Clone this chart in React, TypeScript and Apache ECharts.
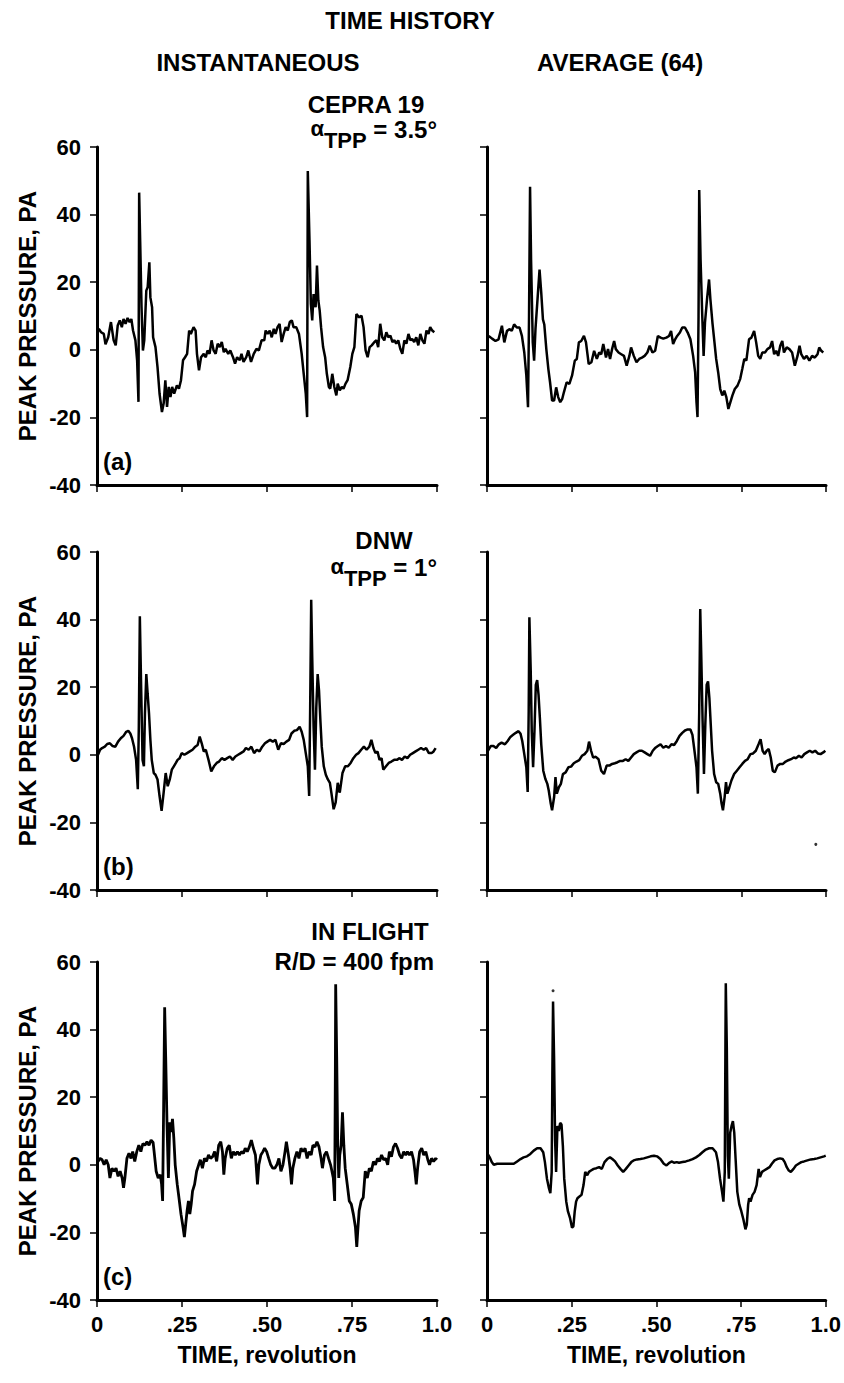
import React, { useEffect, useRef } from "react";
import * as echarts from "echarts";

// Time (revolution) / peak pressure (Pa) pairs
const cepraInstantaneous: [number, number][] = [
  [0.005, 6.2], [0.012, 5.2], [0.02, 4.7], [0.025, 1.6], [0.033, 3.7], [0.041, 8.2], [0.049, 2.8], [0.055, 1.3],
  [0.061, 7.2], [0.067, 8.7], [0.073, 6.7], [0.078, 9.1], [0.084, 7.7], [0.09, 9.4], [0.096, 8.2], [0.101, 9.1],
  [0.106, 5.7], [0.113, 2.8], [0.118, -3.1], [0.122, -15.4], [0.124, 46.5], [0.127, 32], [0.131, 12.6], [0.135, -0.2],
  [0.139, 2.8], [0.145, 17.5], [0.149, 18.5], [0.154, 25.9], [0.157, 15.5], [0.162, 12.6], [0.165, 3.7], [0.172, 0.8],
  [0.178, -5.1], [0.184, -13], [0.191, -18.4], [0.196, -15.9], [0.201, -9], [0.206, -16.9], [0.211, -11], [0.216, -14],
  [0.221, -11], [0.227, -13], [0.235, -10.5], [0.241, -11.5], [0.247, -9], [0.253, -3.1], [0.259, -2.2], [0.265, -1.2],
  [0.271, 5.7], [0.276, 4.7], [0.284, 6.7], [0.29, 5.7], [0.294, -1.2], [0.3, -6.1], [0.306, -2.2], [0.314, -1.2],
  [0.32, -2.2], [0.325, -0.2], [0.331, -1.2], [0.337, 2.8], [0.343, -0.2], [0.349, -1.2], [0.355, 1.8], [0.361, 0.8],
  [0.367, 2.3], [0.373, -0.7], [0.378, 0.3], [0.386, -1.2], [0.392, -0.2], [0.4, -2.2], [0.406, -4.1], [0.412, -2.2],
  [0.42, -3.1], [0.425, -1.2], [0.431, -3.6], [0.439, -2.2], [0.445, -0.2], [0.453, -3.6], [0.461, -1.2], [0.469, 0.3],
  [0.476, -0.2], [0.484, 2.8], [0.492, 2.8], [0.496, 5.7], [0.502, 4.7], [0.508, 5.7], [0.514, 3.7], [0.52, 6.2],
  [0.525, 4.7], [0.531, 6.7], [0.537, 7.7], [0.543, 2.3], [0.549, 4.7], [0.555, 6.7], [0.561, 5.7], [0.567, 8.2],
  [0.573, 8.7], [0.578, 6.7], [0.586, 6.7], [0.594, 4.7], [0.602, -1.2], [0.608, -7.1], [0.614, -13], [0.618, -19.9],
  [0.62, 52.9], [0.625, 32.3], [0.629, 13.6], [0.633, 8.7], [0.637, 16.5], [0.643, 12.6], [0.647, 24.9], [0.651, 14.6],
  [0.655, 11.6], [0.659, 6.7], [0.665, 0.8], [0.671, -2.2], [0.676, -7.1], [0.682, -11], [0.686, -11.5], [0.692, -7.1],
  [0.698, -11], [0.704, -13.5], [0.708, -10], [0.714, -12], [0.72, -11], [0.725, -11.5], [0.731, -10], [0.737, -9],
  [0.745, -5.1], [0.751, -1.2], [0.757, 0.8], [0.763, 10.6], [0.771, 9.6], [0.778, 10.1], [0.784, 6.7], [0.79, -0.2],
  [0.796, -2.2], [0.802, 0.8], [0.808, 1.3], [0.816, 2.3], [0.822, 2.8], [0.827, 0.8], [0.833, 7.7], [0.839, 3.7],
  [0.845, 2.8], [0.851, 5.2], [0.857, 3.7], [0.863, 4.2], [0.869, 2.3], [0.875, 2.8], [0.88, 1.8], [0.886, 2.8],
  [0.892, 0.3], [0.898, -1.2], [0.904, 2.8], [0.91, 1.8], [0.916, 4.7], [0.922, 2.8], [0.927, 3.2], [0.933, 2.3],
  [0.939, 3.7], [0.945, 1.3], [0.951, 4.7], [0.957, 2.8], [0.963, 1.8], [0.969, 5.7], [0.975, 4.7], [0.98, 6.7],
  [0.986, 5.7], [0.992, 5.2],
];

const cepraAverage: [number, number][] = [
  [0.005, 4.1], [0.015, 3.3], [0.025, 2.6], [0.034, 3.1], [0.044, 7.1], [0.051, 2.2], [0.059, 5.6], [0.067, 6.1],
  [0.073, 5.6], [0.08, 7.5], [0.088, 6.6], [0.096, 6.6], [0.103, 4.1], [0.11, -0.8], [0.116, -7.6], [0.121, -17],
  [0.124, 10], [0.127, 48.2], [0.13, 26.7], [0.135, 2.2], [0.139, -3.2], [0.143, 6.1], [0.149, 14.9], [0.155, 23.7],
  [0.16, 16.9], [0.165, 9], [0.169, 7.5], [0.175, 0.2], [0.181, -5.7], [0.186, -9.6], [0.192, -15], [0.198, -15],
  [0.204, -11.1], [0.21, -14], [0.216, -15.5], [0.222, -14.5], [0.227, -12.5], [0.235, -9.6], [0.243, -10.1], [0.251, -7.6],
  [0.259, -3.2], [0.265, -2.7], [0.271, 2.2], [0.278, 2.6], [0.286, 4.1], [0.292, 2.2], [0.3, -4.2], [0.308, -3.7],
  [0.316, -0.3], [0.324, -2.7], [0.331, -0.8], [0.337, -1.3], [0.343, 1.7], [0.351, -2.3], [0.357, 0.2], [0.363, -2.7],
  [0.369, 0.2], [0.375, 2.6], [0.38, 0.2], [0.388, -0.8], [0.396, -1.3], [0.404, -1.8], [0.412, -4.7], [0.42, -1.8],
  [0.425, 0.7], [0.433, -1.8], [0.441, -3.7], [0.449, -2.7], [0.457, -2.3], [0.465, -1.8], [0.473, -0.8], [0.48, 1.2],
  [0.488, -0.8], [0.496, -0.3], [0.504, 4.1], [0.512, 3.6], [0.52, 3.3], [0.529, 3.6], [0.537, 4.1], [0.543, 5.6],
  [0.549, 1.7], [0.555, 3.1], [0.561, 4.1], [0.569, 5.1], [0.576, 6.6], [0.584, 6.6], [0.592, 5.1], [0.6, 3.1],
  [0.608, -1.8], [0.614, -6.7], [0.618, -15.5], [0.621, -19.9], [0.624, 10], [0.626, 47.3], [0.63, 26.7], [0.635, 10],
  [0.639, -1.8], [0.643, 8], [0.649, 14.9], [0.655, 20.8], [0.659, 14.9], [0.665, 8], [0.671, 2.2], [0.676, -2.7],
  [0.682, -6.7], [0.688, -11.6], [0.694, -13.5], [0.7, -12.1], [0.706, -14], [0.712, -17.5], [0.718, -15.5], [0.724, -13.5],
  [0.731, -11.6], [0.739, -10.6], [0.747, -8.6], [0.753, -5.7], [0.759, -2.7], [0.765, -3.2], [0.773, 3.1], [0.78, 3.6],
  [0.788, 5.6], [0.794, 2.2], [0.8, -1.8], [0.806, -2.7], [0.812, -0.8], [0.82, -0.8], [0.827, 0.2], [0.835, 0.7],
  [0.841, 2.6], [0.847, -1.3], [0.853, -0.3], [0.859, -1.8], [0.865, 1.2], [0.871, 2.6], [0.876, -0.8], [0.884, 0.7],
  [0.892, 0.2], [0.9, -0.8], [0.908, -4.7], [0.916, -1.8], [0.922, 1.2], [0.927, -1.3], [0.935, -2.7], [0.943, -1.8],
  [0.951, -3.2], [0.959, -1.8], [0.967, -2.3], [0.975, -1.3], [0.98, 0.7], [0.986, -0.3], [0.992, -0.8],
];

const dnwInstantaneous: [number, number][] = [
  [0.003, 0], [0.009, 1.5], [0.015, 2], [0.023, 2.4], [0.03, 3.2], [0.038, 3.4], [0.046, 2.6], [0.054, 2.4],
  [0.062, 3.9], [0.07, 4.9], [0.078, 5.6], [0.086, 6.8], [0.092, 7.1], [0.098, 6.3], [0.103, 4.9], [0.109, 2.4],
  [0.115, -1.5], [0.12, -10.2], [0.123, 8.3], [0.126, 41], [0.13, 19], [0.134, -1.5], [0.138, -3.4], [0.141, 12.2],
  [0.145, 23.9], [0.149, 18], [0.153, 12.2], [0.157, 4.4], [0.161, -1.5], [0.167, -5.4], [0.172, -5.9], [0.178, -7.3],
  [0.184, -12.2], [0.19, -16.6], [0.196, -11.2], [0.202, -5.4], [0.208, -9.3], [0.214, -7.3], [0.22, -4.4], [0.226, -3.4],
  [0.232, -2.4], [0.237, -1.5], [0.243, -1], [0.249, 0.5], [0.257, 0], [0.265, 0.5], [0.273, 1], [0.281, 1.5],
  [0.289, 2.4], [0.296, 2.9], [0.302, 5.4], [0.308, 3.4], [0.314, 1], [0.32, 1.5], [0.328, -1.5], [0.336, -4.9],
  [0.344, -3.4], [0.352, -2.4], [0.359, -2], [0.367, -1], [0.375, -1.5], [0.383, -1], [0.391, -0.5], [0.399, -1.5],
  [0.407, -0.5], [0.415, 0], [0.423, 0.5], [0.431, 1], [0.438, 2], [0.446, 1.5], [0.454, 2.4], [0.462, 0.5],
  [0.47, 1.5], [0.478, 1], [0.486, 2.4], [0.494, 3.4], [0.501, 3.9], [0.509, 4.4], [0.517, 3.9], [0.525, 4.4],
  [0.533, 1.5], [0.541, 3.4], [0.549, 3.2], [0.557, 3.9], [0.565, 4.4], [0.572, 6.3], [0.58, 7.1], [0.588, 7.3],
  [0.596, 8.3], [0.602, 6.8], [0.608, 4.4], [0.614, 0.5], [0.62, -3.4], [0.624, -12.2], [0.627, 14.1], [0.63, 45.9],
  [0.633, 28.8], [0.637, 8.3], [0.641, -4.4], [0.645, 14.1], [0.649, 23.9], [0.653, 19], [0.657, 10.2], [0.661, 2.4],
  [0.667, -3.4], [0.673, -5.9], [0.679, -7.3], [0.685, -8.3], [0.69, -11.7], [0.696, -16.1], [0.702, -14.1], [0.708, -8.3],
  [0.714, -11.2], [0.722, -5.4], [0.73, -3.4], [0.738, -3.4], [0.746, -2.4], [0.754, -1], [0.762, 0], [0.769, 0.5],
  [0.777, 1.5], [0.785, 2.4], [0.793, 1.5], [0.801, 2.4], [0.807, 4.4], [0.813, 2], [0.819, 0.5], [0.825, 1],
  [0.831, -1.5], [0.837, -1], [0.842, -4.4], [0.85, -3.4], [0.858, -2.4], [0.866, -2], [0.874, -1.5], [0.882, -1.5],
  [0.89, -1], [0.897, -1.5], [0.905, -0.5], [0.913, -1], [0.921, 0], [0.929, 0.5], [0.937, 1], [0.945, 1.5],
  [0.953, 2], [0.961, 1.5], [0.968, 2], [0.976, 0.5], [0.984, 0.5], [0.99, 1], [0.996, 2],
];

const dnwAverage: [number, number][] = [
  [0.003, 1.2], [0.011, 2.6], [0.019, 2.6], [0.027, 2], [0.035, 3.1], [0.043, 3.6], [0.053, 3.1], [0.061, 4.1],
  [0.069, 5.3], [0.077, 5.9], [0.085, 6.5], [0.093, 7], [0.099, 6.2], [0.104, 4.1], [0.11, 0.2], [0.116, -3.7],
  [0.12, -11], [0.123, 12.9], [0.125, 40.7], [0.129, 24.6], [0.132, 7], [0.136, -3.7], [0.14, 7], [0.144, 20.7],
  [0.148, 22.1], [0.152, 17.8], [0.156, 10.9], [0.16, 3.1], [0.166, -4.7], [0.172, -7.1], [0.178, -8.6], [0.182, -10.5],
  [0.188, -14.4], [0.192, -16.4], [0.198, -12.5], [0.202, -6.6], [0.206, -11.5], [0.212, -9.6], [0.218, -8.6], [0.224, -5.7],
  [0.232, -5.2], [0.24, -3.7], [0.248, -3.5], [0.256, -2.5], [0.264, -2], [0.272, -1.6], [0.28, -0.3], [0.288, 0.2],
  [0.296, 1.2], [0.301, 3.9], [0.307, 1.2], [0.313, -0.8], [0.321, -0.6], [0.329, -1.3], [0.337, -4.7], [0.345, -5.7],
  [0.353, -3.2], [0.361, -3.2], [0.369, -2.7], [0.377, -2.5], [0.385, -2.2], [0.393, -1.8], [0.401, -1.8], [0.409, -1.3],
  [0.417, -1.8], [0.425, -0.8], [0.433, 0.2], [0.441, 0.7], [0.449, 1.2], [0.457, 1.2], [0.465, 0.7], [0.473, 0.2],
  [0.481, -0.3], [0.489, 1.2], [0.497, 2.1], [0.504, 2.6], [0.512, 3.1], [0.52, 2.1], [0.528, 2.6], [0.536, 2.1],
  [0.544, 3.1], [0.552, 2.9], [0.56, 4.1], [0.568, 5.6], [0.576, 6.5], [0.584, 7.2], [0.592, 7.5], [0.6, 7.5],
  [0.606, 5.9], [0.612, 1.2], [0.618, -3.7], [0.622, -11.5], [0.626, 12.9], [0.629, 43.1], [0.632, 29.5], [0.636, 10],
  [0.64, -5.7], [0.644, 9], [0.648, 20.7], [0.652, 21.7], [0.656, 16.8], [0.66, 9], [0.664, 1.2], [0.67, -5.7],
  [0.676, -8.1], [0.682, -8.6], [0.688, -11.5], [0.692, -14.4], [0.696, -16.4], [0.701, -12.5], [0.705, -8.1], [0.709, -11.5],
  [0.715, -9.6], [0.721, -7.6], [0.729, -5.7], [0.737, -4.7], [0.745, -3.7], [0.753, -2.7], [0.761, -1.8], [0.769, -1.3],
  [0.777, 0.2], [0.785, 0.4], [0.793, 1.2], [0.801, 3.1], [0.807, 4.6], [0.813, 1.2], [0.819, 0.2], [0.825, 1.2],
  [0.831, 1.7], [0.837, -0.8], [0.843, -4.7], [0.849, -5.2], [0.857, -3.2], [0.865, -2.7], [0.873, -2.7], [0.881, -2],
  [0.889, -1.6], [0.897, -1.3], [0.905, -0.8], [0.912, -1], [0.92, -0.3], [0.928, -0.8], [0.936, 0.2], [0.944, 0.7],
  [0.952, 1.2], [0.96, 0.7], [0.968, 1.2], [0.976, 0.4], [0.984, 0.2], [0.992, 0.7], [0.998, 1.2],
];

const flightInstantaneous: [number, number][] = [
  [0.003, 1], [0.009, 1.9], [0.015, 1.5], [0.021, 0], [0.027, 1.5], [0.033, 0], [0.038, -3.9], [0.044, -1],
  [0.05, -1.9], [0.056, -1], [0.062, -3.4], [0.068, -1.9], [0.074, -3.9], [0.078, -6.8], [0.082, -3.9], [0.088, 1.9],
  [0.094, 3.4], [0.1, 1.9], [0.105, 3.9], [0.111, 1], [0.117, 3.9], [0.123, 5.8], [0.129, 3.9], [0.135, 6.3],
  [0.141, 5.8], [0.147, 6.8], [0.153, 5.8], [0.159, 7.3], [0.165, 6.6], [0.168, 3.9], [0.174, -1.9], [0.18, -3.9],
  [0.186, -2.9], [0.19, -5.8], [0.193, -10.7], [0.196, 17.5], [0.199, 46.6], [0.202, 32], [0.206, 11.7], [0.21, -3.9],
  [0.214, 12.6], [0.218, 9.7], [0.222, 13.6], [0.226, 7.8], [0.23, 0], [0.236, -5.8], [0.241, -9.7], [0.247, -14.6],
  [0.253, -18.4], [0.257, -21.4], [0.261, -17.5], [0.265, -13.6], [0.269, -10.7], [0.273, -14.6], [0.277, -11.7], [0.281, -7.8],
  [0.287, -5.8], [0.293, -1.9], [0.299, 0], [0.304, 1.5], [0.31, -1], [0.316, 1.9], [0.322, 1], [0.328, 2.9],
  [0.334, 1.9], [0.34, 2.4], [0.346, 3.9], [0.352, 1], [0.358, 5.8], [0.364, 6.8], [0.369, 3.9], [0.373, -2.9],
  [0.377, 1.9], [0.383, 4.9], [0.389, 5.8], [0.395, 1.9], [0.401, 3.9], [0.407, 2.9], [0.413, 3.9], [0.419, 2.9],
  [0.425, 3.9], [0.431, 3.4], [0.436, 4.9], [0.442, 3.9], [0.448, 5.3], [0.454, 7.3], [0.46, 4.9], [0.466, 2.9],
  [0.472, -5.8], [0.476, 0], [0.482, 2.9], [0.488, 3.9], [0.493, 4.9], [0.499, 3.9], [0.505, 1.9], [0.511, 0],
  [0.517, -1], [0.523, -1], [0.529, 0], [0.535, 1.9], [0.541, -1.9], [0.547, 0], [0.553, 3.9], [0.557, 6.8],
  [0.563, 2.9], [0.568, -1], [0.572, -5.8], [0.576, -1], [0.582, 1.9], [0.588, 3.9], [0.594, 1.9], [0.6, 4.9],
  [0.606, 3.9], [0.612, 4.9], [0.618, 1.9], [0.624, 3.9], [0.63, 2.9], [0.635, 5.8], [0.641, 5.3], [0.647, 6.8],
  [0.653, 5.3], [0.659, 1.9], [0.663, -1], [0.669, 2.9], [0.675, 3.9], [0.681, 1.9], [0.687, 0], [0.691, -1.9],
  [0.695, -3.9], [0.699, -10.7], [0.701, 27.2], [0.702, 53.4], [0.705, 32], [0.708, 5.8], [0.711, -3.9], [0.714, 2.9],
  [0.718, 5.8], [0.722, 15.5], [0.726, 5.8], [0.73, -1], [0.736, -5.8], [0.742, -10.7], [0.748, -11.7], [0.754, -14.6],
  [0.76, -18.4], [0.764, -24.3], [0.767, -19.4], [0.771, -13.6], [0.777, -10.7], [0.783, -9.7], [0.789, -1.9], [0.795, -3.9],
  [0.801, -1], [0.807, -1.9], [0.813, 1], [0.819, 0], [0.825, 1.9], [0.831, 1], [0.837, 2.9], [0.843, 1.5],
  [0.849, 1.9], [0.855, 0], [0.86, 3.9], [0.866, 2.4], [0.872, 5.3], [0.878, 6.3], [0.884, 4.9], [0.89, 2.9],
  [0.896, 1.9], [0.902, 3.9], [0.908, 2.9], [0.913, 3.9], [0.919, 2.9], [0.925, 3.9], [0.931, 1.5], [0.935, -1.9],
  [0.939, -5.8], [0.943, -1], [0.949, 3.9], [0.955, 4.9], [0.961, 2.9], [0.967, 3.9], [0.973, 1.5], [0.978, 0],
  [0.984, 1.9], [0.99, 1], [0.996, 1.9], [1.0, 1.5],
];

const flightAverage: [number, number][] = [
  [0.002, 3.2], [0.008, 2.2], [0.014, 0.8], [0.02, 0], [0.03, 0.3], [0.039, 0.3], [0.049, 0.3], [0.059, 0.3],
  [0.069, 0.3], [0.079, 0.3], [0.089, 1], [0.099, 1.7], [0.108, 2.2], [0.118, 2.5], [0.128, 3.2], [0.138, 4.2],
  [0.148, 4.9], [0.158, 4.9], [0.166, 3.7], [0.171, 0.8], [0.177, -4.1], [0.183, -7], [0.187, -8.4], [0.191, -2.1],
  [0.193, 27], [0.195, 48.3], [0.198, 31.8], [0.201, 7.6], [0.204, -2.1], [0.208, 11.5], [0.212, 10], [0.216, 12.4],
  [0.22, 11.9], [0.224, 5.6], [0.228, -4.1], [0.234, -10.9], [0.239, -13.8], [0.245, -15.7], [0.251, -18.6], [0.255, -18.2],
  [0.259, -13.8], [0.263, -10.9], [0.267, -9.9], [0.273, -9.4], [0.279, -8.9], [0.285, -6], [0.29, -2.1], [0.296, -3.1],
  [0.301, -2.1], [0.307, -1.7], [0.315, -1.2], [0.323, -1], [0.331, -0.7], [0.339, -1.2], [0.347, 0.8], [0.355, 1.7],
  [0.363, 2.2], [0.37, 1.7], [0.378, 1], [0.386, -0.2], [0.394, -1.2], [0.402, -2.1], [0.41, -1.2], [0.418, -0.2],
  [0.426, 0.8], [0.433, 1.3], [0.443, 1.6], [0.453, 1.7], [0.463, 1.9], [0.473, 2.2], [0.483, 2.5], [0.493, 2.7],
  [0.502, 2.5], [0.512, 1.7], [0.522, 0.3], [0.53, -0.2], [0.538, 0.6], [0.546, 1], [0.552, 0.6], [0.56, 0.8],
  [0.567, 0.6], [0.577, 0.8], [0.587, 1], [0.597, 1.3], [0.607, 1.7], [0.617, 2.2], [0.627, 2.9], [0.636, 3.7],
  [0.646, 4.5], [0.656, 4.9], [0.666, 4.9], [0.676, 3.7], [0.682, 0.8], [0.688, -4.1], [0.694, -8], [0.698, -10.9],
  [0.702, -2.1], [0.704, 36.7], [0.705, 53.7], [0.708, 34.8], [0.711, 2.7], [0.714, -4.1], [0.718, 9.5], [0.722, 11.5],
  [0.726, 12.9], [0.73, 9.5], [0.734, 1.7], [0.739, -8], [0.745, -11.8], [0.751, -13.8], [0.757, -16.2], [0.763, -19.1],
  [0.767, -17.7], [0.771, -11.8], [0.774, -9.9], [0.778, -10.9], [0.784, -8.9], [0.79, -8], [0.796, -6], [0.802, -1.2],
  [0.806, -3.6], [0.812, -2.1], [0.818, -1.7], [0.826, -1.2], [0.834, -0.7], [0.841, 0.3], [0.849, 1.3], [0.857, 1.7],
  [0.865, 1.9], [0.873, 1.7], [0.879, 0.8], [0.885, -0.7], [0.891, -1.7], [0.897, -2.1], [0.905, -1.2], [0.912, -0.2],
  [0.92, 0.3], [0.928, 0.8], [0.936, 1], [0.946, 1.3], [0.956, 1.6], [0.966, 1.7], [0.975, 1.9], [0.985, 2.2],
  [0.995, 2.5], [1.0, 2.7],
];

// isolated specks printed in the averaged panels (b) and (c)
const dnwAverageSpeck: [number, number][] = [[0.97, -26.5]];
const flightAverageSpeck: [number, number][] = [[0.195, 51.5]];

const xTickLabels = ["0", ".25", ".50", ".75", "1.0"];
const yTicks = [-40, -20, 0, 20, 40, 60];
const panelLetters = ["(a)", "(b)", "(c)"];
const columnTitles = ["INSTANTANEOUS", "AVERAGE (64)"];
const conditionNames = ["CEPRA 19", "DNW", "IN FLIGHT"];
const conditionValues = ["3.5°", "1°", "R/D = 400 fpm"];

const FONT = '"Liberation Sans", Arial, Helvetica, sans-serif';

export default function App() {
  const ref = useRef<HTMLDivElement>(null);
  useEffect(() => {
    if (!ref.current) return;
    const chart = echarts.init(ref.current, null, { renderer: "svg" });
    const cols = [
      { left: 97, width: 340 },
      { left: 487, width: 339 },
    ];
    const rows = [147, 552, 962];
    const rowH = 338;
    const panels = [
      cepraInstantaneous, cepraAverage,
      dnwInstantaneous, dnwAverage,
      flightInstantaneous, flightAverage,
    ];
    const specks: Record<number, [number, number][]> = { 3: dnwAverageSpeck, 5: flightAverageSpeck };
    const grid: any[] = [];
    const xAxis: any[] = [];
    const yAxis: any[] = [];
    const series: any[] = [];
    panels.forEach((data, i) => {
      const r = Math.floor(i / 2);
      const c = i % 2;
      grid.push({ left: cols[c].left, top: rows[r], width: cols[c].width, height: rowH, containLabel: false });
      xAxis.push({
        gridIndex: i, type: "value", min: 0, max: 1, interval: 0.25,
        axisLine: { show: true, onZero: false, lineStyle: { color: "#000", width: 3 } },
        axisTick: { show: true, length: 7, lineStyle: { color: "#000", width: 1.5 } },
        splitLine: { show: false },
        axisLabel: {
          show: r === 2, margin: 13, color: "#000",
          fontFamily: FONT, fontWeight: "bold", fontSize: 22,
          formatter: (v: number) => xTickLabels[Math.round(v * 4)] ?? "",
        },
        name: r === 2 ? "TIME, revolution" : "",
        nameLocation: "middle", nameGap: 43,
        nameTextStyle: { color: "#000", fontFamily: FONT, fontWeight: "bold", fontSize: 23 },
      });
      yAxis.push({
        gridIndex: i, type: "value", min: yTicks[0], max: yTicks[yTicks.length - 1], interval: 20,
        axisLine: { show: true, onZero: false, lineStyle: { color: "#000", width: 3 } },
        axisTick: { show: true, length: 7, lineStyle: { color: "#000", width: 1.5 } },
        splitLine: { show: false },
        axisLabel: {
          show: c === 0, margin: 16, color: "#000",
          fontFamily: FONT, fontWeight: "bold", fontSize: 22,
        },
        name: c === 0 ? "PEAK PRESSURE, PA" : "",
        nameLocation: "middle", nameGap: 58, nameRotate: 90,
        nameTextStyle: { color: "#000", fontFamily: FONT, fontWeight: "bold", fontSize: 24 },
      });
      series.push({
        type: "line", xAxisIndex: i, yAxisIndex: i, data,
        showSymbol: false, symbol: "none", smooth: false,
        lineStyle: { color: "#000", width: r === 2 && c === 0 ? 2.8 : 2.5 },
        silent: true,
      });
      if (specks[i]) {
        series.push({
          type: "scatter", xAxisIndex: i, yAxisIndex: i, data: specks[i],
          symbol: "circle", symbolSize: 3, itemStyle: { color: "#000" }, silent: true,
        });
      }
    });

    const txt = (x: number, y: number, text: string, size = 24, align = "center", rich?: any) => ({
      type: "text", x, y, silent: true,
      style: {
        text, fill: "#000", font: `bold ${size}px ${FONT}`,
        textAlign: align, textVerticalAlign: "middle", align, verticalAlign: "middle",
        rich,
      },
    });
    const alphaRich = {
      a: { fontFamily: FONT, fontWeight: "bold", fontSize: 22, lineHeight: 34, verticalAlign: "top", fill: "#000" },
      s: { fontFamily: FONT, fontWeight: "bold", fontSize: 22, lineHeight: 34, verticalAlign: "bottom", fill: "#000" },
      t: { fontFamily: FONT, fontWeight: "bold", fontSize: 24, lineHeight: 34, verticalAlign: "top", fill: "#000" },
    };

    const graphic: any[] = [
      txt(410, 20, "TIME HISTORY"),
      txt(258, 62, columnTitles[0]),
      txt(620, 62, columnTitles[1]),
      txt(366, 104, conditionNames[0]),
      txt(437, 134, `{a|α}{s|TPP}{t| = ${conditionValues[0]}}`, 24, "right", alphaRich),
      txt(384, 540, conditionNames[1]),
      txt(437, 572, `{a|α}{s|TPP}{t| = ${conditionValues[1]}}`, 24, "right", alphaRich),
      txt(370, 931, conditionNames[2]),
      txt(434, 961, conditionValues[2], 24, "right"),
    ];
    rows.forEach((top, r) => {
      graphic.push(txt(103, top + rowH - 24, panelLetters[r], 24, "left"));
    });

    chart.setOption({
      animation: false,
      backgroundColor: "#fff",
      grid, xAxis, yAxis, series, graphic,
    });
    return () => chart.dispose();
  }, []);
  return <div ref={ref} style={{ position: "absolute", left: 0, top: 0, width: 844, height: 1383 }} />;
}
